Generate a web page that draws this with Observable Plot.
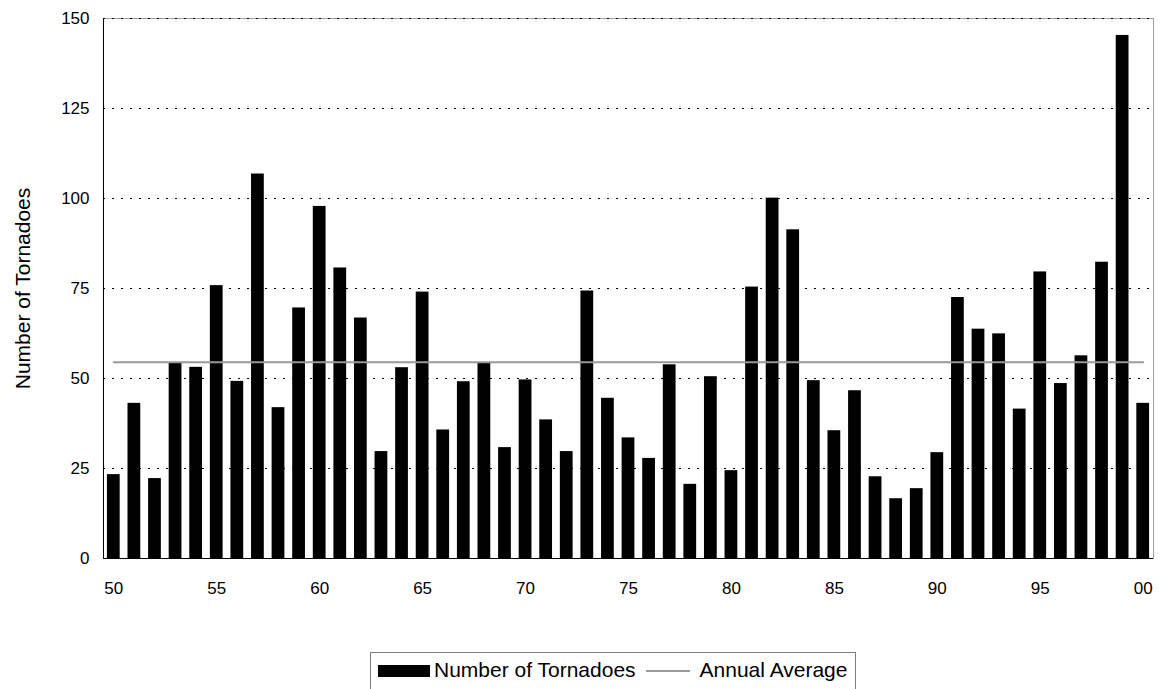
<!DOCTYPE html>
<html>
<head>
<meta charset="utf-8">
<script src="https://cdn.jsdelivr.net/npm/d3@7"></script>
<script src="https://cdn.jsdelivr.net/npm/@observablehq/plot@0.6"></script>
<style>
  html, body { margin: 0; padding: 0; background: #fff; }
  body { width: 1161px; height: 689px; overflow: hidden; position: relative; font-family: "Liberation Sans", Arial, sans-serif; }
  #legend {
    position: absolute; left: 370px; top: 652px; height: 60px;
    border: 1px solid #808080; box-sizing: border-box;
    display: flex; align-items: flex-start; padding: 5px 8px 0 7px;
    font-size: 21px; color: #000; white-space: nowrap;
  }
  #legend .sw { display: inline-block; width: 52px; height: 12px; background: #000; margin: 7px 4px 0 0; }
  #legend .ln { display: inline-block; width: 44px; height: 0; border-top: 2px solid #999; margin: 12px 10px 0 10px; }
</style>
</head>
<body>
<div id="chart"></div>
<div id="legend"><span class="sw"></span><span>Number of Tornadoes</span><span class="ln"></span><span>Annual Average</span></div>
<script>
const years = d3.range(1950, 2001);
const tornadoes = [
  23.3, 43.1, 22.2, 54.2, 53.1, 75.8, 49.2, 106.8, 41.9, 69.6,
  97.8, 80.7, 66.8, 29.7, 53.0, 74.0, 35.7, 49.1, 54.2, 30.8,
  49.6, 38.5, 29.7, 74.3, 44.5, 33.5, 27.8, 53.8, 20.6, 50.5,
  24.4, 75.4, 100.1, 91.3, 49.4, 35.5, 46.6, 22.7, 16.6, 19.4,
  29.4, 72.5, 63.7, 62.4, 41.5, 79.6, 48.6, 56.3, 82.3, 145.3,
  43.1
];
const annualAverage = [54.5];
const yTicks = [0, 25, 50, 75, 100, 125, 150];
const xTickYears = [1950, 1955, 1960, 1965, 1970, 1975, 1980, 1985, 1990, 1995, 2000];
const yLabel = "Number of Tornadoes";

const data = years.map((y, i) => ({year: y, count: tornadoes[i]}));
const avgData = years.map(y => ({year: y, avg: annualAverage[0]}));

const chart = Plot.plot({
  width: 1161,
  height: 640,
  marginLeft: 103,
  marginRight: 8,
  marginTop: 18,
  marginBottom: 82,
  style: {fontFamily: "'Liberation Sans', Arial, sans-serif", fontSize: "17px", color: "#000", background: "#fff"},
  x: {type: "band", domain: years, paddingInner: 0.38, paddingOuter: 0.19, round: false},
  y: {domain: [0, 150]},
  marks: [
    Plot.frame({stroke: "#a0a0a0"}),
    Plot.ruleY(yTicks.filter(d => d > 0), {stroke: "#000", strokeDasharray: "2,7", strokeWidth: 1}),
    Plot.barY(data, {x: "year", y: "count", fill: "#000"}),
    Plot.lineY(avgData, {x: "year", y: "avg", stroke: "#999", strokeWidth: 2}),
    Plot.ruleY([0], {stroke: "#000", strokeWidth: 1}),
    Plot.frame({anchor: "left", stroke: "#000", strokeWidth: 1}),
    Plot.axisX({ticks: xTickYears, tickSize: 0, tickPadding: 23, tickFormat: d => String(d).slice(2), label: null, fontSize: 17}),
    Plot.axisY({ticks: yTicks, tickSize: 0, tickPadding: 14, label: null, fontSize: 17}),
    Plot.text([yLabel], {frameAnchor: "left", text: d => d, rotate: -90, dx: -80, textAnchor: "middle", fontSize: 21, fill: "#000"})
  ]
});
document.getElementById("chart").appendChild(chart);
</script>
</body>
</html>
